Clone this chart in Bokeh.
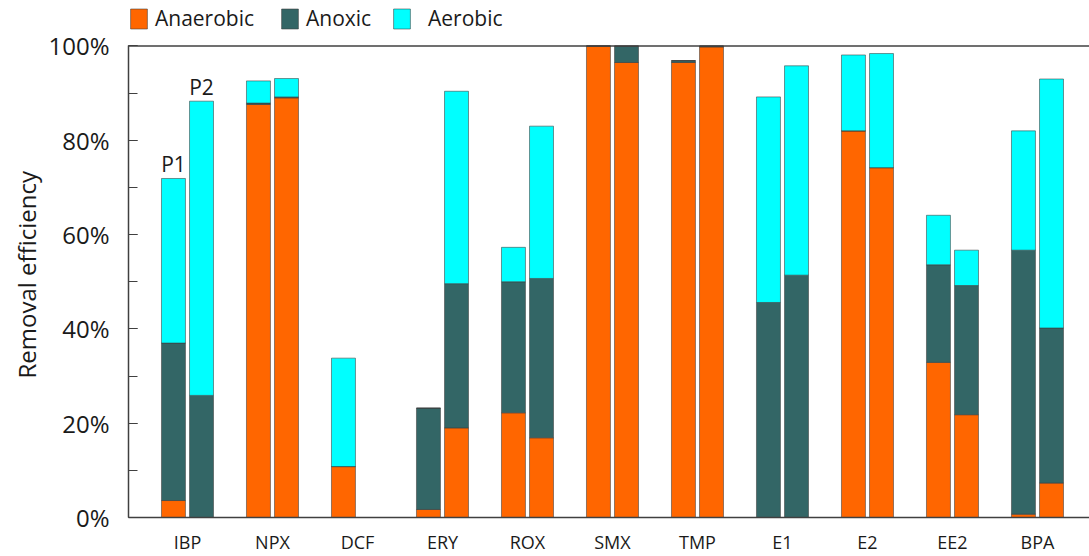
import numpy as np
from bokeh.plotting import figure
from bokeh.models import (ColumnDataSource, FixedTicker, Legend, LegendItem,
                          PrintfTickFormatter, Range1d, Span, Title)
from bokeh.embed import file_html
from bokeh.resources import INLINE
from bokeh.core.properties import value

# Removal efficiency (%) per treatment stage, two sampling phases (P1, P2)
compounds = ["IBP", "NPX", "DCF", "ERY", "ROX", "SMX", "TMP", "E1", "E2", "EE2", "BPA"]
stages = ["Anaerobic", "Anoxic", "Aerobic"]

p1_anaerobic = [3.6, 87.6, 10.8, 1.7, 22.2, 100.0, 96.5, 0.0, 82.0, 32.9, 0.7]
p1_anoxic    = [33.4, 0.3, 0.0, 21.5, 27.8, 0.0, 0.4, 45.6, 0.0, 20.7, 56.0]
p1_aerobic   = [34.9, 4.7, 23.0, 0.0, 7.3, 0.0, 0.0, 43.6, 16.1, 10.5, 25.3]

p2_anaerobic = [0.0, 89.0, 0.0, 19.0, 16.9, 96.5, 99.8, 0.0, 74.2, 21.8, 7.3]
p2_anoxic    = [25.9, 0.2, 0.0, 30.6, 33.8, 3.5, 0.2, 51.4, 0.0, 27.4, 32.9]
p2_aerobic   = [62.4, 3.9, 0.0, 40.8, 32.3, 0.0, 0.0, 44.4, 24.2, 7.5, 52.8]

phase_labels = ["P1", "P2"]
y_ticks = [0, 20, 40, 60, 80, 100]

colors = {"Anaerobic": "#FF6600", "Anoxic": "#336666", "Aerobic": "#00FFFF"}
FONT = "Open Sans"
TEXT = "#1a1a1a"
AXIS = "#404040"

idx = np.arange(len(compounds), dtype=float)
offset = 0.165
bar_w = 0.282

# The value axis stops at 100 %; the space above it holds the legend.
p = figure(width=1089, height=556, output_backend="svg", toolbar_location=None,
           x_range=Range1d(-0.694, 10.612), y_range=Range1d(0, 109.65),
           min_border_left=128, min_border_right=0, min_border_top=0,
           min_border_bottom=39, outline_line_color=None)
p.xgrid.visible = False
p.ygrid.visible = False
p.background_fill_color = "white"
p.border_fill_color = "white"

phases = {
    "P1": (idx - offset, [p1_anaerobic, p1_anoxic, p1_aerobic]),
    "P2": (idx + offset, [p2_anaerobic, p2_anoxic, p2_aerobic]),
}

stage_renderers = {}
totals = {}
for phase, (xs, parts) in phases.items():
    bottom = np.zeros(len(compounds))
    for stage, vals in zip(stages, parts):
        top = bottom + np.array(vals)
        src = ColumnDataSource(dict(x=xs, bottom=bottom.copy(), top=top))
        r = p.vbar(x="x", bottom="bottom", top="top", width=bar_w, source=src,
                   fill_color=colors[stage], line_color="#3a3a3a",
                   line_alpha=0.55, line_width=1)
        stage_renderers.setdefault(stage, r)
        bottom = top
    totals[phase] = bottom

# Phase labels above the first compound's bars
lbl_src = ColumnDataSource(dict(
    x=[idx[0] - offset, idx[0] + offset],
    y=[totals["P1"][0], totals["P2"][0]],
    text=phase_labels))
p.text(x="x", y="y", text="text", source=lbl_src, text_align="center",
       text_baseline="bottom", text_font=value(FONT),
       text_font_size="21px", text_color=TEXT)

# Frame line along the 100 % level
p.add_layout(Span(location=100, dimension="width", line_color=AXIS, line_width=1.5))

# Axes
xa = p.xaxis[0]
xa.ticker = FixedTicker(ticks=list(idx))
xa.major_label_overrides = {float(i): c for i, c in zip(idx, compounds)}
xa.major_tick_line_color = None
xa.minor_tick_line_color = None
xa.major_label_standoff = 6
xa.major_label_text_font = FONT
xa.major_label_text_font_size = "18px"
xa.major_label_text_color = TEXT
xa.axis_line_color = AXIS
xa.axis_line_width = 1.5

ya = p.yaxis[0]
ya.bounds = (0, 100)
ya.ticker = FixedTicker(ticks=y_ticks, minor_ticks=list(range(0, 101, 10)))
ya.formatter = PrintfTickFormatter(format="%d%%")
ya.major_tick_in = 9
ya.major_tick_out = 0
ya.minor_tick_in = 9
ya.minor_tick_out = 0
ya.major_tick_line_color = AXIS
ya.minor_tick_line_color = AXIS
ya.major_label_standoff = 19
ya.major_label_text_font = FONT
ya.major_label_text_font_size = "24px"
ya.major_label_text_color = TEXT
ya.axis_line_color = AXIS
ya.axis_line_width = 1.5

# Value-axis caption, centred on the 0-100 % span rather than the whole frame
p.add_layout(Title(text="Removal efficiency", align="left", offset=139,
                   text_font=FONT, text_font_size="24px",
                   text_font_style="normal", text_color=TEXT, standoff=5), "left")

# Legend entries placed individually along the top
legend_spec = [("Anaerobic", 0, 6), ("Anoxic", 151, 6), ("Aerobic", 263, 16)]
for stage, lx, standoff in legend_spec:
    lg = Legend(items=[LegendItem(label=stage, renderers=[stage_renderers[stage]])],
                location=(lx, 485), orientation="horizontal", padding=0, margin=0,
                border_line_color=None, background_fill_alpha=0,
                glyph_width=21, glyph_height=25, label_height=25,
                label_standoff=standoff,
                label_text_font=FONT, label_text_font_size="21px",
                label_text_color=TEXT, label_text_baseline="middle")
    p.add_layout(lg, "center")

open("out.html", "w").write(file_html(p, INLINE))
